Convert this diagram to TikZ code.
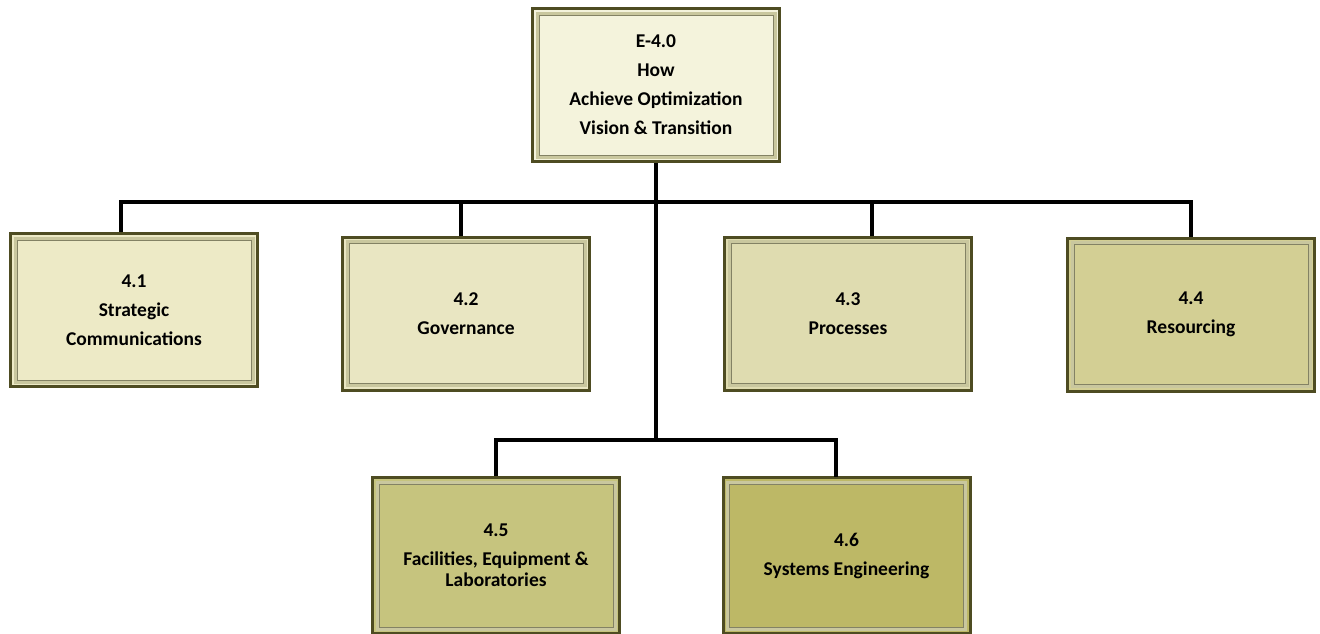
\documentclass[tikz,border=0pt]{standalone}
\usepackage{fontspec}
\setmainfont{Carlito}
\definecolor{frameDark}{HTML}{4E4C22}
\definecolor{frameLight}{HTML}{C9C79E}
\definecolor{cTop}{HTML}{F4F3DC}
\definecolor{cA}{HTML}{EDEAC6}
\definecolor{cB}{HTML}{E9E6C2}
\definecolor{cC}{HTML}{DFDCB0}
\definecolor{cD}{HTML}{D3CF94}
\definecolor{cE}{HTML}{C6C47E}
\definecolor{cF}{HTML}{BDB866}
\tikzset{
  tile/.style={draw=frameDark, line width=3pt, minimum width=247pt, minimum height=153pt,
    inner sep=0pt, align=center, font=\fontsize{19.5}{29}\selectfont\bfseries,
    path picture={
      \draw[frameLight, line width=3pt] ([shift={(4.5pt,4.5pt)}]path picture bounding box.south west) rectangle ([shift={(-4.5pt,-4.5pt)}]path picture bounding box.north east);
      \draw[frameDark!70, line width=0.8pt] ([shift={(6.5pt,6.5pt)}]path picture bounding box.south west) rectangle ([shift={(-6.5pt,-6.5pt)}]path picture bounding box.north east);
    }},
  link/.style={line width=4pt, black}
}
\begin{document}
\begin{tikzpicture}[x=1pt,y=-1pt]
\useasboundingbox (0,0) rectangle (1320,633);
\node[tile, fill=cTop] (top) at (656,85) {E-4.0\\How\\Achieve Optimization\\Vision \& Transition};
\node[tile, fill=cA] (n41) at (134,310) {4.1\\Strategic\\Communications};
\node[tile, fill=cB] (n42) at (466,313.5) {4.2\\Governance};
\node[tile, fill=cC] (n43) at (848,313.5) {4.3\\Processes};
\node[tile, fill=cD] (n44) at (1191,314.5) {4.4\\Resourcing};
\node[tile, fill=cE, minimum height=156pt] (n45) at (496,555.5) {4.5\\Facilities, Equipment \&\\[-8pt]Laboratories};
\node[tile, fill=cF, minimum height=156pt] (n46) at (846.5,555.5) {4.6\\Systems Engineering};
\coordinate (bus) at (656,202);
\coordinate (bus2) at (656,440);
\draw[link] (top.south) -- (bus2);
\draw[link] (n41.north -| 121,0) |- (bus) -| (n44.north);
\draw[link] (461,202) -- (n42.north -| 461,0);
\draw[link] (872,202) -- (n43.north -| 872,0);
\draw[link] (n45.north) |- (bus2) -| (836,477);
\end{tikzpicture}
\end{document}
